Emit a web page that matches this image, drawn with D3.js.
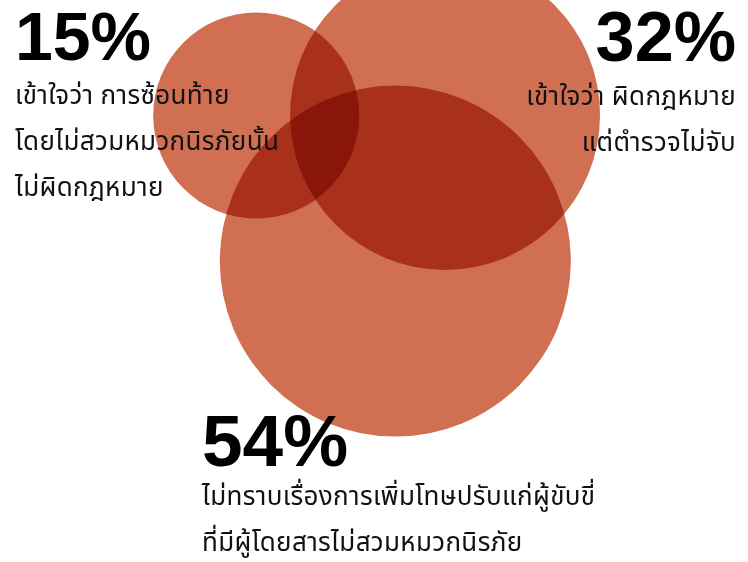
<!DOCTYPE html>
<html>
<head>
<meta charset="utf-8">
<script src="https://cdn.jsdelivr.net/npm/d3@7/dist/d3.min.js"></script>
<style>
  html, body { margin: 0; padding: 0; background: #fff; }
  svg { display: block; }
  .pct { font-family: "Liberation Sans", Arial, sans-serif; font-weight: 700; fill: #000; }
  .desc { font-family: "Noto Sans Thai", "Noto Sans", "DejaVu Sans", sans-serif; fill: #111; letter-spacing: 0.35px; }
  .bubble { mix-blend-mode: multiply; }
</style>
</head>
<body>
<div id="chart"></div>
<script>
// Survey shares (percent of respondents)
const keys = ["pillion", "illegal", "unaware"];
const values = [15, 32, 54];
const valueLabels = ["15%", "32%", "54%"];
const descriptions = [
  ["เข้าใจว่า การซ้อนท้าย", "โดยไม่สวมหมวกนิรภัยนั้น", "ไม่ผิดกฎหมาย"],
  ["เข้าใจว่า ผิดกฎหมาย", "แต่ตำรวจไม่จับ"],
  ["ไม่ทราบเรื่องการเพิ่มโทษปรับแก่ผู้ขับขี่", "ที่มีผู้โดยสารไม่สวมหมวกนิรภัย"]
];

const width = 748, height = 562;

// Unit-square layout: bubble centres, text anchors and gap below the headline
const layout = {
  pillion: { cx: 0.3425, cy: 0.2055, tx: 0.020, ty: 0.107, anchor: "start", gap: 44 },
  illegal: { cx: 0.5950, cy: 0.2045, tx: 0.984, ty: 0.109, anchor: "end", gap: 44 },
  unaware: { cx: 0.5285, cy: 0.4645, tx: 0.270, ty: 0.829, anchor: "start", gap: 39 }
};

const x = d3.scaleLinear().domain([0, 1]).range([0, width]);
const y = d3.scaleLinear().domain([0, 1]).range([0, height]);
const r = d3.scaleLinear().domain([15, 32, 54]).range([103, 155, 175.5]);
const fontSize = d3.scaleLinear().domain([15, 54]).range([68, 73]);

const data = keys.map((k, i) => ({
  key: k, value: values[i], label: valueLabels[i], lines: descriptions[i], ...layout[k]
}));

const svg = d3.select("#chart").append("svg")
  .attr("width", width).attr("height", height);

const bubbles = svg.append("g").style("isolation", "isolate");
bubbles.selectAll("circle")
  .data(data)
  .join("circle")
  .attr("class", "bubble")
  .attr("cx", d => x(d.cx))
  .attr("cy", d => y(d.cy))
  .attr("r", d => r(d.value))
  .attr("fill", "#d06f52");

const labels = svg.append("g").selectAll("g")
  .data(data)
  .join("g")
  .attr("transform", d => `translate(${x(d.tx)},${y(d.ty)})`)
  .attr("text-anchor", d => d.anchor);

labels.append("text")
  .attr("class", "pct")
  .attr("font-size", d => fontSize(d.value))
  .text(d => d.label);

labels.each(function(d) {
  d3.select(this).selectAll("text.desc")
    .data(d.lines)
    .join("text")
    .attr("class", "desc")
    .attr("font-size", 26)
    .attr("y", (_, i) => d.gap + i * 46)
    .text(t => t);
});
</script>
</body>
</html>
